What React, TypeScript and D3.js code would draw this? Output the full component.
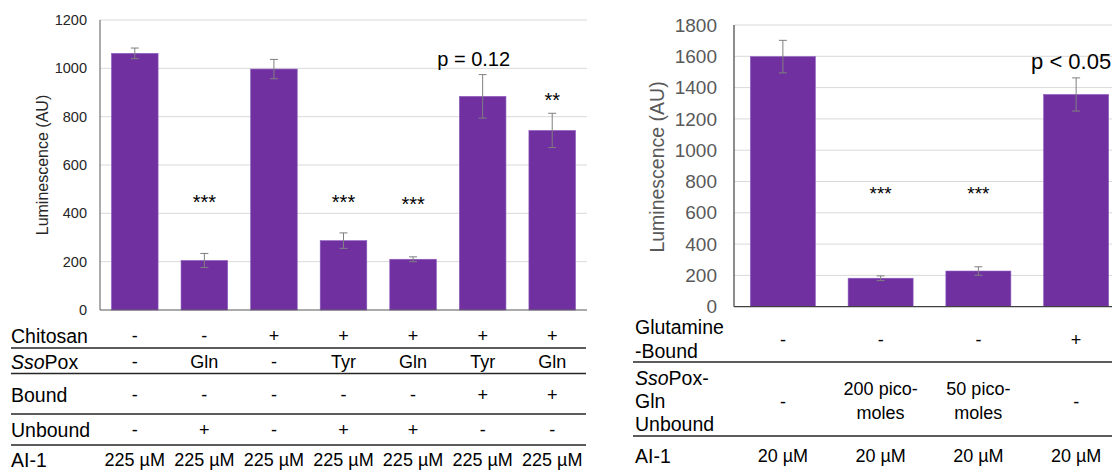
import React from "react";
import * as d3 from "d3";

// ---------- Left chart data ----------
const leftIdx = [0, 1, 2, 3, 4, 5, 6];
const leftValues = [1062, 205, 997, 287, 210, 884, 743];
const leftErrors = [22, 29, 40, 32, 10, 90, 71];
const leftAnnot = ["", "***", "", "***", "***", "p = 0.12", "**"];
const leftAnnotLevel = [0, 468, 0, 468, 462, 1040, 893];
const leftTicks = [0, 200, 400, 600, 800, 1000, 1200];
const leftChitosan = ["-", "-", "+", "+", "+", "+", "+"];
const leftSsoPox = ["-", "Gln", "-", "Tyr", "Gln", "Tyr", "Gln"];
const leftBound = ["-", "-", "-", "-", "-", "+", "+"];
const leftUnbound = ["-", "+", "-", "+", "+", "-", "-"];
const leftAI1 = ["225 µM", "225 µM", "225 µM", "225 µM", "225 µM", "225 µM", "225 µM"];

// ---------- Right chart data ----------
const rightIdx = [0, 1, 2, 3];
const rightValues = [1598, 182, 228, 1356];
const rightErrors = [104, 15, 27, 106];
const rightAnnot = ["", "***", "***", "p < 0.05"];
const rightAnnotLevel = [0, 760, 760, 1565];
const rightTicks = [0, 200, 400, 600, 800, 1000, 1200, 1400, 1600, 1800];
const rightGlnBound = ["-", "-", "-", "+"];
const rightSsoPoxGln = [["-"], ["200 pico-", "moles"], ["50 pico-", "moles"], ["-"]];
const rightAI1 = ["20 µM", "20 µM", "20 µM", "20 µM"];

const FONT = "'Liberation Sans', Arial, sans-serif";
const PURPLE = "#7030A0";
const ERR = "#7f7f7f";
const GRID = "#d9d9d9";

export default function App() {
  // Left scales
  const lx = d3.scaleBand<number>().domain(leftIdx).range([100, 587]).paddingInner(0.33).paddingOuter(0.165);
  const ly = d3.scaleLinear().domain([0, 1200]).range([310, 20]);
  // Right scales
  const rx = d3.scaleBand<number>().domain(rightIdx).range([734, 1125]).paddingInner(0.335).paddingOuter(0.1675);
  const ry = d3.scaleLinear().domain([0, 1800]).range([306.7, 25]);

  const lc = (i: number) => (lx(i) as number) + lx.bandwidth() / 2;
  const rc = (i: number) => (rx(i) as number) + rx.bandwidth() / 2;

  const leftRows: { label: React.ReactNode; vals: string[]; cy: number }[] = [
    { label: "Chitosan", vals: leftChitosan, cy: 336 },
    { label: <><tspan fontStyle="italic">Sso</tspan>Pox</>, vals: leftSsoPox, cy: 362 },
    { label: "Bound", vals: leftBound, cy: 395 },
    { label: "Unbound", vals: leftUnbound, cy: 430 },
    { label: "AI-1", vals: leftAI1, cy: 460 },
  ];
  const leftLines = [348, 373.5, 414, 445];
  const rightLines = [362, 436];

  return (
    <svg width={1112} height={471} style={{ position: "absolute", left: 0, top: 0, background: "#fff" }} fontFamily={FONT}>
      {/* ===== Left chart ===== */}
      {leftTicks.map((t) => (
        <g key={"lt" + t}>
          {t > 0 && <line x1={100} x2={587} y1={ly(t)} y2={ly(t)} stroke={GRID} strokeWidth={1} />}
          <text x={87} y={ly(t)} dy="0.35em" textAnchor="end" fontSize={14.5} fill="#262626">{t}</text>
        </g>
      ))}
      <text transform={`translate(42,${165}) rotate(-90)`} textAnchor="middle" dy="0.35em" fontSize={16} fill="#262626">Luminescence (AU)</text>
      {leftIdx.map((i) => {
        const v = leftValues[i], e = leftErrors[i], cx = lc(i);
        return (
          <g key={"lb" + i}>
            <rect x={lx(i)} y={ly(v)} width={lx.bandwidth()} height={ly(0) - ly(v)} fill={PURPLE} stroke="#8e5cbf" strokeWidth={0.6} />
            <line x1={cx} x2={cx} y1={ly(v + e)} y2={ly(v - e)} stroke={ERR} strokeWidth={1} />
            <line x1={cx - 4} x2={cx + 4} y1={ly(v + e)} y2={ly(v + e)} stroke={ERR} strokeWidth={1} />
            <line x1={cx - 4} x2={cx + 4} y1={ly(v - e)} y2={ly(v - e)} stroke={ERR} strokeWidth={1} />
            {leftAnnot[i] && (
              leftAnnot[i].startsWith("p") ? (
                <text x={cx - 9} y={ly(leftAnnotLevel[i])} dy="0.35em" textAnchor="middle" fontSize={20} fill="#000">{leftAnnot[i]}</text>
              ) : (
                <text x={cx} y={ly(leftAnnotLevel[i])} dy="0.62em" textAnchor="middle" fontSize={20} fill="#000">{leftAnnot[i]}</text>
              )
            )}
          </g>
        );
      })}
      <line x1={100} x2={100} y1={20} y2={310} stroke="#595959" strokeWidth={1} />
      <line x1={100} x2={587} y1={310} y2={310} stroke="#595959" strokeWidth={1.2} />

      {/* Left table */}
      {leftRows.map((r, ri) => (
        <g key={"lr" + ri}>
          <text x={11} y={r.cy} dy="0.35em" fontSize={19.5} fill="#000">{r.label}</text>
          {r.vals.map((v, i) => (
            <text key={i} x={lc(i)} y={r.cy} dy="0.35em" textAnchor="middle" fontSize={18} fill="#000">{v}</text>
          ))}
        </g>
      ))}
      {leftLines.map((y, i) => (
        <line key={"ll" + i} x1={11} x2={586} y1={y} y2={y} stroke="#262626" strokeWidth={1.5} />
      ))}

      {/* ===== Right chart ===== */}
      {rightTicks.map((t) => (
        <g key={"rt" + t}>
          {t > 0 && <line x1={734} x2={1125} y1={ry(t)} y2={ry(t)} stroke={GRID} strokeWidth={1} />}
          <text x={717} y={ry(t)} dy="0.35em" textAnchor="end" fontSize={19} fill="#595959">{t}</text>
        </g>
      ))}
      <text transform={`translate(657,${167}) rotate(-90)`} textAnchor="middle" dy="0.35em" fontSize={19.5} fill="#595959">Luminescence (AU)</text>
      {rightIdx.map((i) => {
        const v = rightValues[i], e = rightErrors[i], cx = rc(i);
        return (
          <g key={"rb" + i}>
            <rect x={rx(i)} y={ry(v)} width={rx.bandwidth()} height={ry(0) - ry(v)} fill={PURPLE} stroke="#8e5cbf" strokeWidth={0.6} />
            <line x1={cx} x2={cx} y1={ry(v + e)} y2={ry(v - e)} stroke={ERR} strokeWidth={1} />
            <line x1={cx - 4} x2={cx + 4} y1={ry(v + e)} y2={ry(v + e)} stroke={ERR} strokeWidth={1} />
            <line x1={cx - 4} x2={cx + 4} y1={ry(v - e)} y2={ry(v - e)} stroke={ERR} strokeWidth={1} />
            {rightAnnot[i] && (
              rightAnnot[i].startsWith("p") ? (
                <text x={cx - 5} y={ry(rightAnnotLevel[i])} dy="0.35em" textAnchor="middle" fontSize={22} fill="#000">{rightAnnot[i]}</text>
              ) : (
                <text x={cx} y={ry(rightAnnotLevel[i])} dy="0.62em" textAnchor="middle" fontSize={19} fill="#000">{rightAnnot[i]}</text>
              )
            )}
          </g>
        );
      })}
      <line x1={734} x2={734} y1={25} y2={306.7} stroke="#404040" strokeWidth={1.2} />
      <line x1={734} x2={1125} y1={306.7} y2={306.7} stroke="#404040" strokeWidth={1.2} />

      {/* Right table */}
      <text x={635} y={327} dy="0.35em" fontSize={19.5} fill="#000">Glutamine</text>
      <text x={635} y={351} dy="0.35em" fontSize={19.5} fill="#000">-Bound</text>
      {rightGlnBound.map((v, i) => (
        <text key={"rg" + i} x={rc(i)} y={340} dy="0.35em" textAnchor="middle" fontSize={18} fill="#000">{v}</text>
      ))}
      <text x={635} y={378} dy="0.35em" fontSize={19.5} fill="#000"><tspan fontStyle="italic">Sso</tspan>Pox-</text>
      <text x={635} y={401} dy="0.35em" fontSize={19.5} fill="#000">Gln</text>
      <text x={635} y={424} dy="0.35em" fontSize={19.5} fill="#000">Unbound</text>
      {rightSsoPoxGln.map((lines, i) => {
        const cy = lines.length === 1 ? 401.5 : 389;
        return lines.map((s, k) => (
          <text key={"rs" + i + k} x={rc(i)} y={cy + k * 24} dy="0.35em" textAnchor="middle" fontSize={18} fill="#000">{s}</text>
        ));
      })}
      <text x={635} y={456} dy="0.35em" fontSize={19.5} fill="#000">AI-1</text>
      {rightAI1.map((v, i) => (
        <text key={"ra" + i} x={rc(i)} y={456} dy="0.35em" textAnchor="middle" fontSize={18} fill="#000">{v}</text>
      ))}
      {rightLines.map((y, i) => (
        <line key={"rl" + i} x1={633} x2={1112} y1={y} y2={y} stroke="#262626" strokeWidth={1.5} />
      ))}
    </svg>
  );
}
